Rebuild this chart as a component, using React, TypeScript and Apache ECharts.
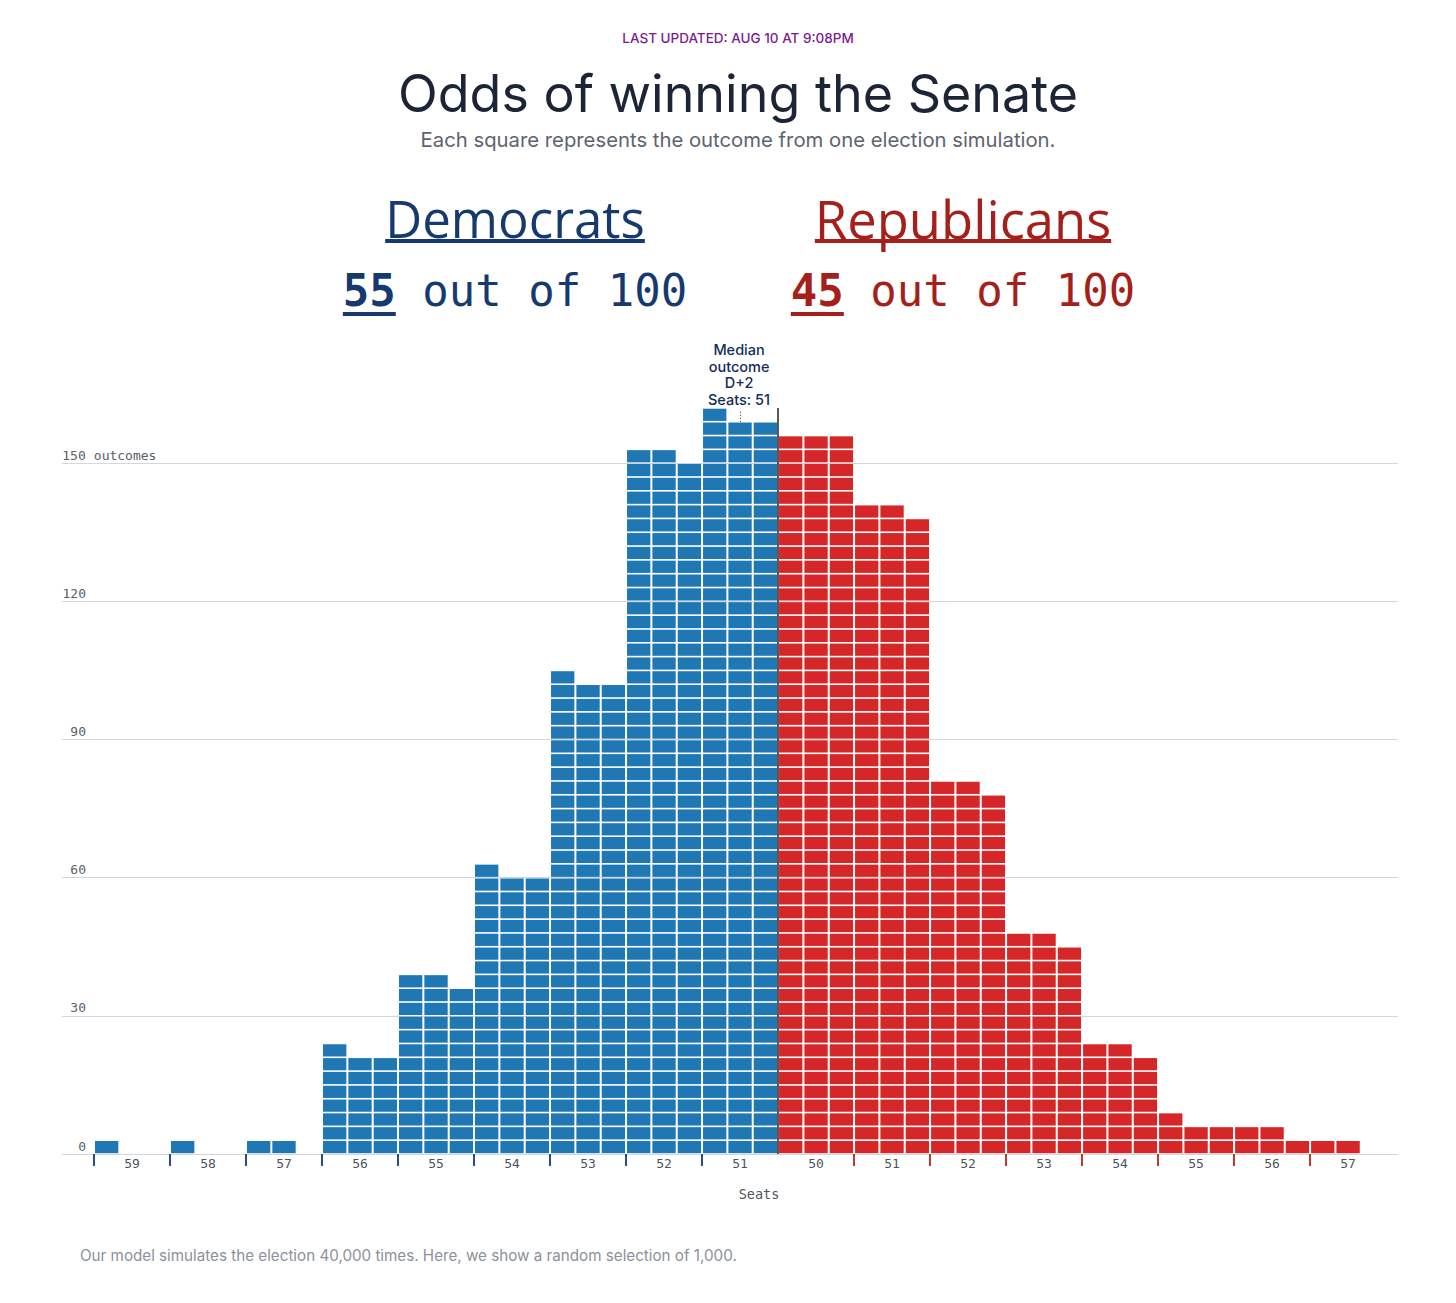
import React, { useEffect, useRef } from "react";
import * as echarts from "echarts";

// ---------- data ----------
const seatLabels = ["59", "58", "57", "56", "55", "54", "53", "52", "51", "50", "51", "52", "53", "54", "55", "56", "57"];
const binParty = ["D", "D", "D", "D", "D", "D", "D", "D", "D", "R", "R", "R", "R", "R", "R", "R", "R"];
// outcome counts of the three square columns in each seat bin
const demColumns = [
  [3, 0, 0], [3, 0, 0], [3, 3, 0], [24, 21, 21], [39, 39, 36],
  [63, 60, 60], [105, 102, 102], [153, 153, 150], [162, 159, 159],
];
const repColumns = [
  [156, 156, 156], [141, 141, 138], [81, 81, 78], [48, 48, 45],
  [24, 24, 21], [9, 6, 6], [6, 6, 3], [3, 3, 0],
];
const OUTCOMES_PER_SQUARE = 3;
const COLS_PER_BIN = 3;
const medianColumn = 27; // boundary between D and R columns
const medianValue = 162;
const medianLabelCol = 25.5;
const medianLabelLines = ["Median", "outcome", "D+2", "Seats: 51"];

const BLUE = "#1f77b4";
const RED = "#d62728";
const MONO = '"DejaVu Sans Mono", "Liberation Mono", monospace';
const SANS = 'Inter, "Open Sans", "Noto Sans", sans-serif';

const allColumns = [...demColumns, ...repColumns];
const columnData: number[][] = [];
allColumns.forEach((bin, b) => {
  bin.forEach((v, j) => {
    columnData.push([b * COLS_PER_BIN + j, v, binParty[b] === "D" ? 0 : 1]);
  });
});
const binCenters = seatLabels.map((_, i) => i * COLS_PER_BIN + 1.5);
const demEdges = binParty.map((p, i) => (p === "D" ? i * COLS_PER_BIN : -1)).filter((v) => v >= 0);
const repEdges = binParty
  .map((p, i) => (p === "R" && i * COLS_PER_BIN !== medianColumn ? i * COLS_PER_BIN : -1))
  .filter((v) => v >= 0);

function measure(text: string, fontSize: number, fontFamily: string, fontWeight: any = "normal") {
  const t = new (echarts.graphic as any).Text({ style: { text, fontSize, fontFamily, fontWeight } });
  return t.getBoundingRect().width;
}

export default function App() {
  const ref = useRef<HTMLDivElement>(null);
  useEffect(() => {
    if (!ref.current) return;
    const chart = echarts.init(ref.current, undefined, { renderer: "svg" });

    const monoSize = 44;
    const w55 = measure("55", monoSize, MONO, "bold");
    const wRest = measure(" out of 100", monoSize, MONO);
    const partyFont = '"Open Sans", sans-serif';
    const wDem = measure("Democrats", 51, partyFont);
    const wRep = measure("Republicans", 52.5, partyFont);
    const demCx = 515;
    const repCx = 963;
    const demLeft = demCx - (w55 + wRest) / 2;
    const repLeft = repCx - (w55 + wRest) / 2;

    const graphic: any[] = [
      { type: "text", x: 738, y: 38, style: { text: "LAST UPDATED: AUG 10 AT 9:08PM", fill: "#7b1b93", fontSize: 13.5, fontFamily: SANS, fontWeight: 500, align: "center", verticalAlign: "middle" } },
      { type: "text", x: 738, y: 93, style: { text: "Odds of winning the Senate", fill: "#1b2535", fontSize: 52, fontFamily: SANS, fontWeight: 400, align: "center", verticalAlign: "middle" } },
      { type: "text", x: 738, y: 139, style: { text: "Each square represents the outcome from one election simulation.", fill: "#5c6471", fontSize: 20.3, fontFamily: SANS, align: "center", verticalAlign: "middle" } },
      { type: "text", x: demCx, y: 218, style: { text: "Democrats", fill: "#163a6e", fontSize: 51, fontFamily: partyFont, align: "center", verticalAlign: "middle" } },
      { type: "rect", shape: { x: demCx - wDem / 2, y: 239, width: wDem, height: 4 }, style: { fill: "#163a6e" } },
      { type: "text", x: repCx, y: 218, style: { text: "Republicans", fill: "#a51f1b", fontSize: 52.5, fontFamily: partyFont, align: "center", verticalAlign: "middle" } },
      { type: "rect", shape: { x: repCx - wRep / 2, y: 239, width: wRep, height: 4 }, style: { fill: "#a51f1b" } },
      { type: "text", x: demLeft, y: 290, style: { text: "55", fill: "#163a6e", fontSize: monoSize, fontFamily: MONO, fontWeight: "bold", align: "left", verticalAlign: "middle" } },
      { type: "text", x: demLeft + w55, y: 290, style: { text: " out of 100", fill: "#163a6e", fontSize: monoSize, fontFamily: MONO, align: "left", verticalAlign: "middle" } },
      { type: "rect", shape: { x: demLeft, y: 312, width: w55, height: 4 }, style: { fill: "#163a6e" } },
      { type: "text", x: repLeft, y: 290, style: { text: "45", fill: "#a51f1b", fontSize: monoSize, fontFamily: MONO, fontWeight: "bold", align: "left", verticalAlign: "middle" } },
      { type: "text", x: repLeft + w55, y: 290, style: { text: " out of 100", fill: "#a51f1b", fontSize: monoSize, fontFamily: MONO, align: "left", verticalAlign: "middle" } },
      { type: "rect", shape: { x: repLeft, y: 312, width: w55, height: 4 }, style: { fill: "#a51f1b" } },
      { type: "text", x: 759, y: 1194, style: { text: "Seats", fill: "#4e5560", fontSize: 13.5, fontFamily: MONO, align: "center", verticalAlign: "middle" } },
      { type: "text", x: 80, y: 1255, style: { text: "Our model simulates the election 40,000 times. Here, we show a random selection of 1,000.", fill: "#8b919a", fontSize: 15.2, fontFamily: SANS, align: "left", verticalAlign: "middle" } },
    ];

    const xMin = -1.263;
    const xMax = 51.47;

    const option: any = {
      animation: false,
      backgroundColor: "#ffffff",
      graphic,
      grid: { left: 62, right: 58, top: 325, bottom: 149, containLabel: false },
      xAxis: [
        {
          type: "value", min: xMin, max: xMax, position: "bottom",
          splitLine: { show: false }, axisLine: { show: false },
          axisTick: { show: true, customValues: demEdges, length: 12, lineStyle: { color: "#2b4c7e", width: 2 } },
          axisLabel: {
            show: true, customValues: binCenters, margin: 3, fontFamily: MONO, fontSize: 13, color: "#4e5560",
            formatter: (v: number) => seatLabels[Math.round((v - 1.5) / COLS_PER_BIN)] ?? "",
          },
        },
        {
          type: "value", min: xMin, max: xMax, position: "bottom",
          splitLine: { show: false }, axisLine: { show: false },
          axisTick: { show: true, customValues: repEdges, length: 12, lineStyle: { color: "#c0392b", width: 2 } },
          axisLabel: { show: false },
        },
      ],
      yAxis: {
        type: "value", min: 0, max: 180, interval: 30,
        axisLine: { show: false }, axisTick: { show: false },
        splitLine: { show: true, showMaxLine: false, showMinLine: true, lineStyle: { color: "#d3d7dc", width: 1 } },
        axisLabel: {
          inside: true, margin: 0, verticalAlign: "bottom", lineHeight: 16,
          formatter: (v: number) => (v >= 180 ? "" : v === 150 ? "{n|150}{u| outcomes}" : `{n|${v}}`),
          rich: {
            n: { width: 24, align: "right", fontFamily: MONO, fontSize: 13, color: "#5a6069", lineHeight: 16 },
            u: { fontFamily: MONO, fontSize: 13, color: "#5a6069", lineHeight: 16 },
          },
        },
      },
      series: [
        {
          type: "custom",
          xAxisIndex: 0,
          clip: false,
          data: columnData,
          renderItem: (params: any, api: any) => {
            const c = api.value(0);
            const v = api.value(1);
            const party = api.value(2);
            const xl = api.coord([c, 0])[0];
            const xr = api.coord([c + 1, 0])[0];
            const rows = Math.round(v / OUTCOMES_PER_SQUARE);
            const children: any[] = [];
            for (let k = 0; k < rows; k++) {
              const yb = api.coord([c, k * OUTCOMES_PER_SQUARE])[1];
              const yt = api.coord([c, (k + 1) * OUTCOMES_PER_SQUARE])[1];
              children.push({
                type: "rect",
                shape: { x: xl + 1, y: yt + 0.8, width: xr - xl - 2, height: yb - yt - 1.6 },
                style: { fill: party === 0 ? BLUE : RED },
              });
            }
            return { type: "group", children };
          },
          markLine: {
            silent: true,
            symbol: "none",
            label: { show: false },
            data: [
              [
                { coord: [medianColumn, 0], lineStyle: { color: "#222", width: 1.5, type: "solid" } },
                { coord: [medianColumn, medianValue] },
              ],
              [
                { coord: [medianLabelCol, 159], lineStyle: { color: "#333", width: 1, type: [1, 2] } },
                { coord: [medianLabelCol, 161.2] },
              ],
            ],
          },
          markPoint: {
            silent: true,
            symbol: "circle",
            symbolSize: 0,
            data: [{ coord: [medianLabelCol, medianValue] }],
            label: {
              show: true,
              position: "top",
              distance: 0,
              offset: [-1, 0],
              formatter: medianLabelLines.join("\n"),
              fontFamily: SANS,
              fontSize: 14.5,
              fontWeight: 500,
              lineHeight: 16.7,
              color: "#132e57",
              align: "center",
            },
          },
        },
      ],
    };
    chart.setOption(option);
    return () => chart.dispose();
  }, []);
  return (
    <div
      ref={ref}
      style={{ position: "absolute", left: 0, top: 0, width: 1456, height: 1303, background: "#fff" }}
    />
  );
}
